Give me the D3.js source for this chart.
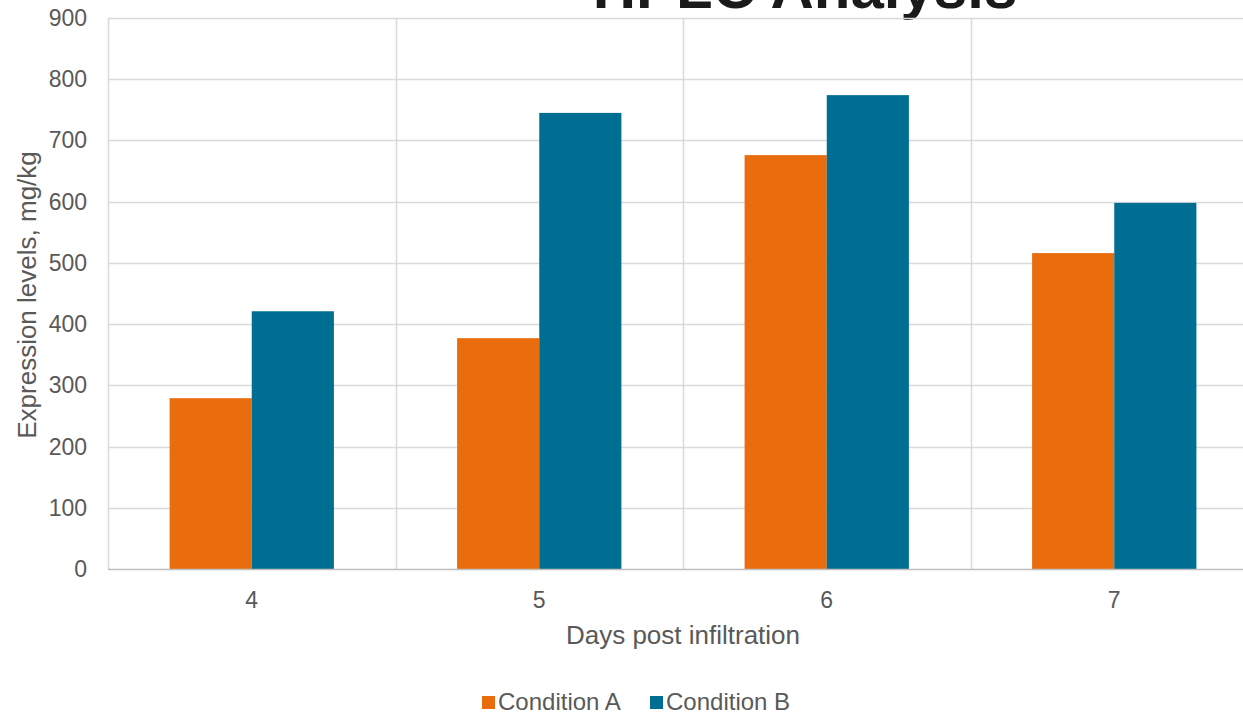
<!DOCTYPE html>
<html>
<head>
<meta charset="utf-8">
<script src="https://cdn.jsdelivr.net/npm/d3@7"></script>
<style>
body{margin:0;background:#fff;overflow:hidden;}
text{font-family:"Liberation Sans",Arial,sans-serif;}
</style>
</head>
<body>
<div id="chart"></div>
<script>
var width = 1243;
var height = 714;

var days = ["4", "5", "6", "7"];
var series = ["Condition A", "Condition B"];
var conditionA = [279, 377, 676, 516];
var conditionB = [421, 745, 774, 598];
var yTicks = [0, 100, 200, 300, 400, 500, 600, 700, 800, 900];
var colors = ["#E96C0D", "#006E93"];

var margin = {left: 108, top: 18, bottom: 145};
var plotRight = 1258;

var svg = d3.select("#chart").append("svg").attr("width", width).attr("height", height);

var x = d3.scaleBand().domain(days).range([margin.left, plotRight]).paddingInner(0).paddingOuter(0);
var y = d3.scaleLinear().domain([0, 900]).range([height - margin.bottom, margin.top]);
var x1 = d3.scaleBand().domain(series).range([0, x.bandwidth()]).paddingInner(0).paddingOuter(0.75);

// title (cut off at top in the original)
svg.append("text")
	.attr("x", 805).attr("y", 8)
	.attr("text-anchor", "middle")
	.style("font-size", "60px").style("font-weight", "bold")
	.attr("fill", "#1a1a1a")
	.text("HPLC Analysis");

// horizontal grid
svg.append("g").selectAll("line").data(yTicks.slice(1)).enter().append("line")
	.attr("x1", margin.left).attr("x2", width)
	.attr("y1", function(d){ return Math.round(y(d)) + 0.5; })
	.attr("y2", function(d){ return Math.round(y(d)) + 0.5; })
	.attr("stroke", "#d9d9d9").attr("stroke-width", 1.5);

// vertical grid
var vlines = days.map(function(d){ return x(d); }).concat([plotRight]);
svg.append("g").selectAll("line").data(vlines).enter().append("line")
	.attr("x1", function(d){ return Math.round(d) + 0.5; })
	.attr("x2", function(d){ return Math.round(d) + 0.5; })
	.attr("y1", y(900)).attr("y2", y(0))
	.attr("stroke", "#d9d9d9").attr("stroke-width", 1.5);

// bars
var groups = svg.append("g").selectAll("g").data(days).enter().append("g")
	.attr("transform", function(d){ return "translate(" + x(d) + ",0)"; });
groups.selectAll("rect")
	.data(function(d, i){ return [{s: series[0], v: conditionA[i], c: colors[0]}, {s: series[1], v: conditionB[i], c: colors[1]}]; })
	.enter().append("rect")
	.attr("x", function(d){ return x1(d.s); })
	.attr("width", x1.bandwidth())
	.attr("y", function(d){ return y(d.v); })
	.attr("height", function(d){ return y(0) - y(d.v); })
	.attr("fill", function(d){ return d.c; });

// x axis line
svg.append("line")
	.attr("x1", margin.left).attr("x2", width)
	.attr("y1", Math.round(y(0)) + 0.5).attr("y2", Math.round(y(0)) + 0.5)
	.attr("stroke", "#bfbfbf").attr("stroke-width", 1.5);

// y tick labels
svg.append("g").selectAll("text").data(yTicks).enter().append("text")
	.attr("x", 87).attr("y", function(d){ return y(d); })
	.attr("dy", "0.35em")
	.attr("text-anchor", "end")
	.attr("fill", "#595959")
	.style("font-size", "23px")
	.text(function(d){ return d; });

// x tick labels
svg.append("g").selectAll("text").data(days).enter().append("text")
	.attr("x", function(d){ return x(d) + x.bandwidth() / 2; })
	.attr("y", 608)
	.attr("text-anchor", "middle")
	.attr("fill", "#595959")
	.style("font-size", "23px")
	.text(function(d){ return d; });

// axis titles
svg.append("text")
	.attr("x", 683).attr("y", 644)
	.attr("text-anchor", "middle")
	.attr("fill", "#595959")
	.style("font-size", "26px")
	.text("Days post infiltration");

svg.append("text")
	.attr("transform", "translate(36,295) rotate(-90)")
	.attr("text-anchor", "middle")
	.attr("fill", "#595959")
	.style("font-size", "26px")
	.text("Expression levels, mg/kg");

// legend
var legend = svg.append("g");
var lx = [482, 650];
series.forEach(function(s, i){
	legend.append("rect")
		.attr("x", lx[i]).attr("y", 696)
		.attr("width", 13).attr("height", 13)
		.attr("fill", colors[i]);
	legend.append("text")
		.attr("x", lx[i] + 16).attr("y", 710)
		.attr("fill", "#595959")
		.style("font-size", "24px")
		.text(s);
});
</script>
</body>
</html>
